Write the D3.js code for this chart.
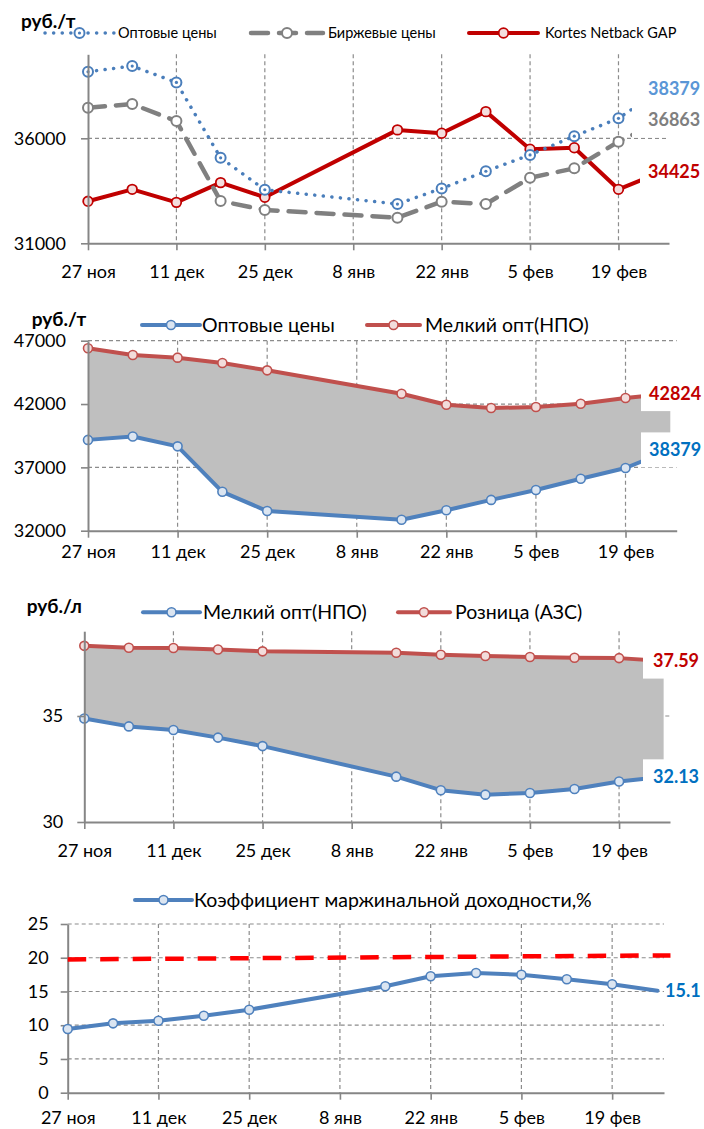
<!DOCTYPE html>
<html><head><meta charset="utf-8">
<script src="https://cdn.jsdelivr.net/npm/d3@7"></script>
<style>
body{margin:0;background:#fff;}
svg{display:block;font-family:Lato,"Noto Sans",sans-serif;}
</style></head><body>
<svg id="c" width="704" height="1129"></svg>
<script>
// ---------- DATA ----------
const dates = ["2018-11-27","2018-12-04","2018-12-11","2018-12-18","2018-12-25","2019-01-15","2019-01-22","2019-01-29","2019-02-05","2019-02-12","2019-02-19","2019-02-26"];
const tickDates = ["2018-11-27","2018-12-11","2018-12-25","2019-01-08","2019-01-22","2019-02-05","2019-02-19"];
const tickLabels = ["27 ноя","11 дек","25 дек","8 янв","22 янв","5 фев","19 фев"];
const domainDates = ["2018-11-27","2019-02-27"];

// chart 1, руб./т
const optPrices    = [39170, 39440, 38660, 35070, 33550, 32870, 33610, 34430, 35210, 36100, 36950, 38379];
const birzhPrices  = [37460, 37630, 36820, 33010, 32590, 32220, 32980, 32870, 34120, 34570, 35840, 36863];
const kortesGap    = [33000, 33570, 32950, 33890, 33190, 36400, 36240, 37270, 35480, 35550, 33570, 34425];
// chart 2, руб./т
const npoPrices    = [46400, 45870, 45660, 45240, 44660, 42810, 41945, 41685, 41765, 42025, 42475, 42824];
// chart 3, руб./л
const npoLitre     = [34.88, 34.51, 34.34, 33.98, 33.58, 32.14, 31.50, 31.29, 31.37, 31.56, 31.91, 32.13];
const azsLitre     = [38.31, 38.22, 38.21, 38.14, 38.05, 37.98, 37.89, 37.83, 37.78, 37.75, 37.73, 37.59];
// chart 4, %
const marginCoef   = [9.44, 10.28, 10.67, 11.41, 12.30, 15.77, 17.25, 17.74, 17.49, 16.81, 16.07, 15.1];
const targetDates  = ["2018-11-27","2019-02-28"];
const targetLevel  = [19.75, 20.35];

const yTicks1 = [31000, 36000];
const yTicks2 = [32000, 37000, 42000, 47000];
const yTicks3 = [30, 35];
const yTicks4 = [0, 5, 10, 15, 20, 25];

// ---------- DRAW ----------
const parse = d3.timeParse("%Y-%m-%d");
const svg = d3.select("#c");
const AX = "#868686", GRID = "#8c8c8c";

function makePanel(o){
  const g = svg.append("g");
  const x = d3.scaleTime().domain(domainDates.map(parse)).range(o.xr);
  const y = d3.scaleLinear().domain(o.yd).range(o.yr);
  const top = o.yr[1], bot = o.yr[0];
  g.selectAll(".hg").data(o.yTicks.filter(v => v !== o.yd[0])).join("line")
    .attr("x1", o.xr[0]).attr("x2", o.xr[1]).attr("y1", d => y(d)).attr("y2", d => y(d))
    .attr("stroke", GRID).attr("stroke-width", 1.2).attr("stroke-dasharray", "4,3");
  g.selectAll(".vg").data(tickDates.slice(1)).join("line")
    .attr("x1", d => x(parse(d))).attr("x2", d => x(parse(d))).attr("y1", top).attr("y2", bot)
    .attr("stroke", GRID).attr("stroke-width", 1.2).attr("stroke-dasharray", "4,3");
  return {g, x, y};
}

function axes(p, o){
  const ya = p.g.append("g").attr("transform", `translate(${o.xr[0]},0)`)
    .call(d3.axisLeft(p.y).tickValues(o.yTicks).tickSize(7).tickSizeOuter(0).tickPadding(o.yPad).tickFormat(d3.format("d")));
  const xa = p.g.append("g").attr("transform", `translate(0,${o.yr[0]})`)
    .call(d3.axisBottom(p.x).tickValues(tickDates.map(parse)).tickSize(7).tickSizeOuter(0).tickPadding(o.xPad)
      .tickFormat((d,i) => tickLabels[i]));
  [ya, xa].forEach(a => {
    a.select(".domain").attr("stroke", AX).attr("stroke-width", 2);
    a.selectAll(".tick line").attr("stroke", AX).attr("stroke-width", 1.6);
    a.selectAll("text").attr("fill", "#000").attr("font-size", 18).attr("font-family", "Lato");
  });
}

function series(p, vals, st, withMarkers){
  const pts = dates.map((d,i) => [p.x(parse(d)), p.y(vals[i])]);
  p.g.append("path").attr("d", d3.line()(pts)).attr("fill", "none")
    .attr("stroke", st.color).attr("stroke-width", st.w)
    .attr("stroke-dasharray", st.dash || null).attr("stroke-linecap", st.cap || "round")
    .attr("stroke-linejoin", "round");
  if (withMarkers) {
    p.g.selectAll(null).data(pts.slice(0, -1)).join("circle")
      .attr("cx", d => d[0]).attr("cy", d => d[1]).attr("r", st.r || 4.5)
      .attr("fill", st.mfill || "#fff").attr("stroke", st.mstroke || st.color).attr("stroke-width", st.mw || 1.6);
    if (st.dot) p.g.selectAll(null).data(pts.slice(0, -1)).join("circle")
      .attr("cx", d => d[0]).attr("cy", d => d[1]).attr("r", 1.6).attr("fill", st.color);
  }
}

function band(p, lo, hi){
  const area = d3.area().x((d,i) => p.x(parse(dates[i]))).y0((d,i) => p.y(lo[i])).y1((d,i) => p.y(hi[i]));
  p.g.append("path").attr("d", area(dates)).attr("fill", "#bfbfbf");
}

function endLabel(p, val, txt, color, lx, box){
  const yy = p.y(val);
  if (box) p.g.append("rect").attr("x", box).attr("y", yy - 17.5).attr("width", 704 - box).attr("height", 35).attr("fill", "#fff");
  p.g.append("text").attr("x", lx).attr("y", yy).attr("dy", "0.35em").attr("fill", color)
    .attr("font-weight", "bold").attr("font-size", 18).text(txt);
}

function legendItem(g, x1, x2, yy, st, txt, tx, fs){
  g.append("line").attr("x1", x1).attr("x2", x2).attr("y1", yy).attr("y2", yy)
    .attr("stroke", st.color).attr("stroke-width", st.w).attr("stroke-dasharray", st.dash || null)
    .attr("stroke-linecap", st.cap || "round");
  g.append("circle").attr("cx", (x1 + x2) / 2).attr("cy", yy).attr("r", st.r || 4.5)
    .attr("fill", st.mfill || "#fff").attr("stroke", st.mstroke || st.color).attr("stroke-width", st.mw || 1.6);
  if (st.dot) g.append("circle").attr("cx", (x1 + x2) / 2).attr("cy", yy).attr("r", 1.6).attr("fill", st.color);
  g.append("text").attr("x", tx).attr("y", yy).attr("dy", "0.35em").attr("font-size", fs).attr("fill", "#000").text(txt);
}

function unitLabel(x, y, txt){
  svg.append("text").attr("x", x).attr("y", y).attr("font-weight", "bold").attr("font-size", 19).text(txt);
}

// styles
const sOpt1   = {color:"#4a7ebb", w:3.5, dash:"0.1,8.5", cap:"round", r:5, mw:2, dot:true};
const sBirzh  = {color:"#808080", w:4.5, dash:"17,11", cap:"round", r:5, mw:2};
const sKortes = {color:"#c00000", w:4, r:4.8, mw:1.8, mfill:"#f4dede"};
const sBlue   = {color:"#4f81bd", w:4, r:4.5, mw:1.6, mfill:"#dbe5f1"};
const sRed    = {color:"#c0504d", w:4, r:4.5, mw:1.6, mfill:"#f2dcdb"};
const sTarget = {color:"#ff0000", w:4.5, dash:"18.5,14", cap:"butt"};

// ---- Chart 1 ----
const o1 = {xr:[88, 669], yd:[31000, 40000], yr:[243.3, 54.3], yTicks:yTicks1, yPad:15, xPad:15};
const p1 = makePanel(o1);
series(p1, kortesGap, sKortes, true);
series(p1, birzhPrices, sBirzh, true);
series(p1, optPrices, sOpt1, true);
axes(p1, o1);
endLabel(p1, 38379, "38379", "#5a96d6", 648, 640);
endLabel(p1, 36863, "36863", "#7f7f7f", 648, 632);
endLabel(p1, 34425, "34425", "#c00000", 648, 640);
unitLabel(21, 28, "руб./т");
legendItem(svg, 45, 114, 33, sOpt1, "Оптовые цены", 118, 14.5);
legendItem(svg, 251, 323, 33, sBirzh, "Биржевые цены", 328, 14.5);
legendItem(svg, 469, 538, 33, sKortes, "Kortes Netback GAP", 545, 14.5);

// ---- Chart 2 ----
const o2 = {xr:[88, 676.7], yd:[32000, 47000], yr:[530.7, 340.7], yTicks:yTicks2, yPad:15, xPad:8};
const p2 = makePanel(o2);
band(p2, optPrices, npoPrices);
series(p2, npoPrices, sRed, true);
series(p2, optPrices, sBlue, true);
axes(p2, o2);
endLabel(p2, 42824, "42824", "#c00000", 649, 641);
endLabel(p2, 38379, "38379", "#0070c0", 649, 641);
unitLabel(31.7, 326, "руб./т");
legendItem(svg, 142, 200, 325, sBlue, "Оптовые цены", 202, 19.5);
legendItem(svg, 367, 420, 325, sRed, "Мелкий опт(НПО)", 425, 19.5);

// ---- Chart 3 ----
const o3 = {xr:[84.3, 670], yd:[30, 39], yr:[822, 631.2], yTicks:yTicks3, yPad:14, xPad:15};
const p3 = makePanel(o3);
band(p3, npoLitre, azsLitre);
series(p3, azsLitre, sRed, true);
series(p3, npoLitre, sBlue, true);
axes(p3, o3);
endLabel(p3, 37.59, "37.59", "#c00000", 653, 643);
endLabel(p3, 32.13, "32.13", "#0070c0", 653, 643);
unitLabel(26.7, 613, "руб./л");
legendItem(svg, 143, 200, 612.3, sBlue, "Мелкий опт(НПО)", 203, 19.5);
legendItem(svg, 398, 450, 612.3, sRed, "Розница (АЗС)", 455, 19.5);

// ---- Chart 4 ----
const o4 = {xr:[67.7, 664], yd:[0, 25], yr:[1092.7, 924], yTicks:yTicks4, yPad:12, xPad:12};
const p4 = makePanel(o4);
axes(p4, o4);
p4.g.append("path")
  .attr("d", d3.line()(targetDates.map((d,i) => [p4.x(parse(d)), p4.y(targetLevel[i])])))
  .attr("fill", "none").attr("stroke", sTarget.color).attr("stroke-width", sTarget.w)
  .attr("stroke-dasharray", sTarget.dash);
series(p4, marginCoef, sBlue, true);
endLabel(p4, 15.1, "15.1", "#0070c0", 665, null);
legendItem(svg, 135, 192, 900, sBlue, "Коэффициент маржинальной доходности,%", 194, 19.5);
</script>
</body></html>
